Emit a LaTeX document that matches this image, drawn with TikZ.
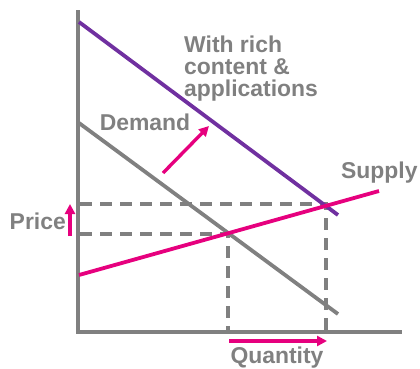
\documentclass[tikz,border=0pt]{standalone}
\usepackage{fontspec}
\setmainfont{Liberation Sans}
\usetikzlibrary{arrows.meta}
\definecolor{axisgray}{RGB}{128,128,128}
\definecolor{richpurple}{RGB}{112,48,160}
\definecolor{shiftpink}{RGB}{230,0,126}
\tikzset{
  lbl/.style={text=axisgray,font=\fontsize{23}{22}\selectfont\bfseries,inner sep=0pt},
  curve/.style={line width=3.8pt},
  guide/.style={axisgray,line width=3.6pt,dash pattern=on 12bp off 8bp},
  shiftarrow/.style={shiftpink,line width=3.4pt,-{Triangle[length=10bp,width=10bp]}}
}
\begin{document}
\begin{tikzpicture}[x=1bp,y=-1bp]
            \useasboundingbox (0,0) rectangle (420,369);
            % Assi
            \coordinate (O) at (78,332);
            \coordinate (ytop) at (78,10);
            \coordinate (xend) at (402,332);
            \draw[axisgray,line width=4pt] (ytop) -- (O) -- (xend);

            % Curve
            \coordinate (R1) at (79,22);
            \coordinate (R2) at (338,215);
            \coordinate (D1) at (79,123);
            \coordinate (D2) at (338,314);
            \coordinate (S1) at (79,275);
            \coordinate (S2) at (379,191);

            % Equilibri
            \coordinate (E1) at (228,234);
            \coordinate (E2) at (326,204);

            % Tratteggi
            \draw[guide] (80,204) -- (E2) -- (326,332);
            \draw[guide] (80,234) -- (E1) -- (228,332);

            \draw[curve,axisgray] (D1) -- (D2);
            \draw[curve,richpurple] (R1) -- (R2);
            \draw[curve,shiftpink] (S1) -- (S2);

            % Frecce
            \coordinate (pa) at (70,236);
            \coordinate (pb) at (70,204);
            \draw[shiftarrow] (pa) -- (pb);
            \coordinate (qa) at (229,341);
            \coordinate (qb) at (327,341);
            \draw[shiftarrow] (qa) -- (qb);
            \coordinate (da) at (163,173);
            \coordinate (db) at (209,126);
            \draw[shiftarrow] (da) -- (db);

            % Etichette
            \node[lbl,anchor=east] (price) at (66,221) {Price};
            \node[lbl] (quantity) at (277,358) {Quantity};
            \node[lbl] (demand) at (145,122) {Demand};
            \node[lbl,anchor=west] (supply) at (341,173) {Supply};
            \node[lbl,align=left,anchor=north west,text depth=0pt] (rich) at (184,36)
              {With rich\\content \&\\applications};
        \end{tikzpicture}
\end{document}
